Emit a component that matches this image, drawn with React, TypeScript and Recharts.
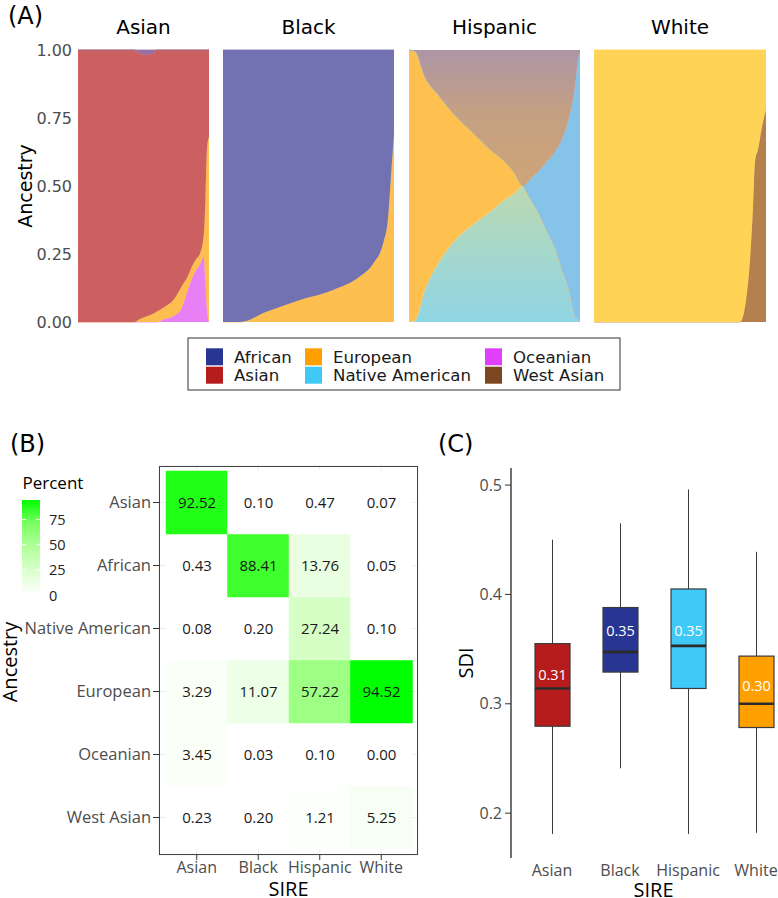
import React from "react";
import {
  AreaChart,
  Area,
  BarChart,
  Bar,
  Cell,
  LabelList,
  ComposedChart,
  XAxis,
  YAxis,
  CartesianGrid,
} from "recharts";

const FONT_A = "'DejaVu Sans', sans-serif";
const FONT_B = "'Open Sans', sans-serif";

// legend palette
const legendNames = ["African", "Asian", "European", "Native American", "Oceanian", "West Asian"];
const legendColors = ["#283593", "#b71c1c", "#ffa000", "#40c8f6", "#e040fb", "#7b4620"];

// ---- (A) ancestry proportions, individuals sorted (x = rank fraction) ----
const asianX = [0, 0.2, 0.43, 0.47, 0.52, 0.58, 0.6, 0.66, 0.73, 0.79, 0.84, 0.87, 0.9, 0.93, 0.96, 0.973, 0.985, 1];
const asianAfrican = [0, 0, 0, 0.012, 0.018, 0.01, 0, 0, 0, 0, 0, 0, 0, 0, 0, 0, 0, 0];
const asianAsian = [1, 1, 1, 0.978, 0.962, 0.958, 0.962, 0.945, 0.918, 0.87, 0.83, 0.795, 0.77, 0.75, 0.68, 0.55, 0.36, 0.32];
const asianEuropean = [0, 0, 0, 0.01, 0.02, 0.032, 0.038, 0.045, 0.06, 0.08, 0.05, 0.045, 0.04, 0.04, 0.08, 0.3, 0.6, 0.68];
const asianOceanian = [0, 0, 0, 0, 0, 0, 0, 0.01, 0.022, 0.05, 0.12, 0.16, 0.19, 0.21, 0.24, 0.15, 0.04, 0];

const blackX = [0, 0.1, 0.255, 0.45, 0.645, 0.8, 0.88, 0.937, 0.966, 0.986, 1];
const blackAfrican = [1, 1, 0.962, 0.919, 0.882, 0.833, 0.784, 0.71, 0.613, 0.43, 0.31];
const blackEuropean = [0, 0, 0.038, 0.081, 0.118, 0.167, 0.216, 0.29, 0.387, 0.57, 0.69];

const hispX = [0, 0.035, 0.094, 0.171, 0.269, 0.367, 0.464, 0.561, 0.62, 0.667, 0.71, 0.756, 0.8, 0.854, 0.9, 0.93, 0.97, 0.99, 1];
const hispNativeMix = [0, 0.005, 0.118, 0.216, 0.3, 0.355, 0.4, 0.45, 0.475, 0.5, 0.45, 0.4, 0.34, 0.27, 0.18, 0.13, 0.02, 0.005, 0];
const hispEuropean = [1, 0.99, 0.782, 0.619, 0.46, 0.345, 0.24, 0.139, 0.07, 0, 0, 0, 0, 0, 0, 0, 0, 0, 0];
const hispNative = [0, 0, 0, 0, 0, 0, 0, 0, 0, 0, 0.075, 0.153, 0.245, 0.356, 0.5, 0.606, 0.84, 0.965, 0.99];
const hispAfricanMix = [0, 0.005, 0.1, 0.165, 0.24, 0.3, 0.36, 0.411, 0.455, 0.5, 0.475, 0.447, 0.415, 0.374, 0.32, 0.264, 0.14, 0.03, 0.01];

const whiteX = [0, 0.849, 0.898, 0.923, 0.936, 0.955, 0.975, 0.988, 1];
const whiteEuropean = [1, 1, 0.84, 0.595, 0.41, 0.362, 0.288, 0.25, 0.22];
const whiteWestAsian = [0, 0, 0.16, 0.405, 0.59, 0.638, 0.712, 0.75, 0.78];

const ancestryTicks = [0, 0.25, 0.5, 0.75, 1];

// ---- (B) percent of ancestry by SIRE ----
const sires = ["Asian", "Black", "Hispanic", "White"];
const pctAsian = [92.52, 0.1, 0.47, 0.07];
const pctAfrican = [0.43, 88.41, 13.76, 0.05];
const pctNative = [0.08, 0.2, 27.24, 0.1];
const pctEuropean = [3.29, 11.07, 57.22, 94.52];
const pctOceanian = [3.45, 0.03, 0.1, 0.0];
const pctWestAsian = [0.23, 0.2, 1.21, 5.25];
const colorbarTicks = [0, 25, 50, 75];

// ---- (C) SDI boxplots ----
const sdiMin = [0.181, 0.241, 0.181, 0.182];
const sdiQ1 = [0.2795, 0.329, 0.314, 0.2783];
const sdiMedian = [0.314, 0.3475, 0.353, 0.3];
const sdiQ3 = [0.355, 0.388, 0.405, 0.3436];
const sdiMax = [0.45, 0.465, 0.496, 0.439];
const sdiMean = [0.31, 0.35, 0.35, 0.3];
const sdiTicks = [0.2, 0.3, 0.4, 0.5];
const sireColors = ["#b71c1c", "#283593", "#40c8f6", "#ffa000"];

// white -> green gradient interpolated in Lab (like ggplot)
const toLin = (c: number) => {
  c /= 255;
  return c <= 0.04045 ? c / 12.92 : Math.pow((c + 0.055) / 1.055, 2.4);
};
const fromLin = (c: number) => {
  const v = c <= 0.0031308 ? 12.92 * c : 1.055 * Math.pow(c, 1 / 2.4) - 0.055;
  return Math.round(Math.min(1, Math.max(0, v)) * 255);
};
const f = (t: number) => (t > 0.008856 ? Math.cbrt(t) : 7.787 * t + 16 / 116);
const finv = (t: number) => (t * t * t > 0.008856 ? t * t * t : (t - 16 / 116) / 7.787);
function toLab(rgb: number[]) {
  const [r, g, b] = rgb.map(toLin);
  const X = (0.4124 * r + 0.3576 * g + 0.1805 * b) / 0.95047;
  const Y = 0.2126 * r + 0.7152 * g + 0.0722 * b;
  const Z = (0.0193 * r + 0.1192 * g + 0.9505 * b) / 1.08883;
  return [116 * f(Y) - 16, 500 * (f(X) - f(Y)), 200 * (f(Y) - f(Z))];
}
function fromLab([L, a, bb]: number[]) {
  const fy = (L + 16) / 116;
  const X = finv(fy + a / 500) * 0.95047;
  const Y = finv(fy);
  const Z = finv(fy - bb / 200) * 1.08883;
  const r = 3.2406 * X - 1.5372 * Y - 0.4986 * Z;
  const g = -0.9689 * X + 1.8758 * Y + 0.0415 * Z;
  const b = 0.0557 * X - 0.204 * Y + 1.057 * Z;
  return `rgb(${fromLin(r)},${fromLin(g)},${fromLin(b)})`;
}
const labLow = toLab([255, 255, 255]);
const labHigh = toLab([0, 255, 0]);
const pctMax = Math.max(...pctEuropean, ...pctAsian);
const greenScale = (v: number) => {
  const t = v / pctMax;
  return fromLab(labLow.map((l, i) => l + (labHigh[i] - l) * t));
};

function StackPanel({
  x,
  layers,
  left,
  width,
  axis,
}: {
  x: number[];
  layers: { key: string; color: string; values: number[] }[];
  left: number;
  width: number;
  axis?: boolean;
}) {
  const rows = x.map((v, i) => {
    const r: Record<string, number> = { x: v };
    layers.forEach((l) => (r[l.key] = l.values[i]));
    return r;
  });
  return (
    <div style={{ position: "absolute", left, top: 40 }}>
      <AreaChart width={width} height={292} data={rows} margin={{ top: 10, right: 0, bottom: 10, left: 0 }}>
        <defs>
          <linearGradient id="hispTop" x1="0" y1="0" x2="0" y2="1">
            <stop offset="0%" stopColor="#ad95a6" />
            <stop offset="45%" stopColor="#c4a083" />
            <stop offset="100%" stopColor="#cfa577" />
          </linearGradient>
          <linearGradient id="hispLow" x1="0" y1="0" x2="0" y2="1">
            <stop offset="0%" stopColor="#bcd9b0" />
            <stop offset="50%" stopColor="#a5d7cc" />
            <stop offset="100%" stopColor="#8fd5e3" />
          </linearGradient>
        </defs>
        <XAxis dataKey="x" type="number" domain={[0, 1]} hide />
        <YAxis
          domain={[0, 1]}
          hide={!axis}
          width={78}
          ticks={ancestryTicks}
          tickFormatter={(v: number) => v.toFixed(2)}
          axisLine={false}
          tickLine={false}
          tickSize={4}
          tickMargin={2}
          tick={{ fontSize: 16, fill: "#4d4d4d", fontFamily: FONT_A }}
        />
        {layers.map((l) => (
          <Area
            key={l.key}
            dataKey={l.key}
            stackId="s"
            type="monotone"
            fill={l.color}
            fillOpacity={1}
            stroke={l.color.startsWith("url") ? "none" : l.color}
            strokeWidth={0.8}
            dot={false}
            activeDot={false}
            isAnimationActive={false}
          />
        ))}
      </AreaChart>
    </div>
  );
}

// bottom -> top for the heatmap stack
const heatAncestries = [
  { key: "WestAsian", name: "West Asian", pct: pctWestAsian },
  { key: "Oceanian", name: "Oceanian", pct: pctOceanian },
  { key: "European", name: "European", pct: pctEuropean },
  { key: "Native", name: "Native American", pct: pctNative },
  { key: "African", name: "African", pct: pctAfrican },
  { key: "Asian", name: "Asian", pct: pctAsian },
];
const heatRows = sires.map((s, i) => {
  const r: Record<string, string | number> = { sire: s };
  heatAncestries.forEach((a) => {
    r[a.key] = 1;
    r["p_" + a.key] = a.pct[i];
  });
  return r;
});

const boxRows = sires.map((s, i) => ({
  sire: s,
  whisker: [sdiMin[i], sdiMax[i]],
  box: [sdiQ1[i], sdiQ3[i]],
  q1: sdiQ1[i],
  q3: sdiQ3[i],
  median: sdiMedian[i],
  mean: sdiMean[i],
}));

const WhiskerShape = (p: any) => {
  const cx = p.x + p.width / 2;
  const top = Math.min(p.y, p.y + p.height);
  return <line x1={cx} x2={cx} y1={top} y2={top + Math.abs(p.height)} stroke="#3a3a3a" strokeWidth={1} />;
};

const BoxShape = (p: any) => {
  const { x, y, width, height, payload, fill } = p;
  const top = Math.min(y, y + height);
  const h = Math.abs(height);
  const yAt = (v: number) => top + (h * (payload.q3 - v)) / (payload.q3 - payload.q1);
  const my = yAt(payload.median);
  return (
    <g>
      <rect x={x} y={top} width={width} height={h} fill={fill} stroke="#3a3a3a" strokeWidth={1.2} />
      <line x1={x} x2={x + width} y1={my} y2={my} stroke="#2b2b2b" strokeWidth={2.6} />
      <text
        x={x + width / 2}
        y={yAt(payload.mean + 0.017)}
        textAnchor="middle"
        dominantBaseline="central"
        fill="#fff"
        fontSize={14.5}
        fontFamily={FONT_B}
      >
        {payload.mean.toFixed(2)}
      </text>
    </g>
  );
};

export default function App() {
  const legendCols = [206, 305, 485];
  const legendRows = [348.3, 366.7];
  const cbTop = 500;
  const cbH = 95;
  return (
    <div
      style={{
        position: "absolute",
        left: 0,
        top: 0,
        width: 778,
        height: 898,
        background: "#fff",
        overflow: "hidden",
      }}
    >
      {/* (A) */}
      <StackPanel
        axis
        left={0}
        width={209}
        x={asianX}
        layers={[
          { key: "Oceanian", color: "#e87ff4", values: asianOceanian },
          { key: "European", color: "#fdbe50", values: asianEuropean },
          { key: "Asian", color: "#cc6060", values: asianAsian },
          { key: "African", color: "#9670a0", values: asianAfrican },
        ]}
      />
      <StackPanel
        left={223}
        width={171}
        x={blackX}
        layers={[
          { key: "European", color: "#fdc050", values: blackEuropean },
          { key: "African", color: "#7272b2", values: blackAfrican },
        ]}
      />
      <StackPanel
        left={409}
        width={171}
        x={hispX}
        layers={[
          { key: "NativeMix", color: "url(#hispLow)", values: hispNativeMix },
          { key: "European", color: "#fec04f", values: hispEuropean },
          { key: "Native", color: "#86c3e8", values: hispNative },
          { key: "AfricanMix", color: "url(#hispTop)", values: hispAfricanMix },
        ]}
      />
      <StackPanel
        left={594}
        width={172}
        x={whiteX}
        layers={[
          { key: "WestAsian", color: "#b4804e", values: whiteWestAsian },
          { key: "European", color: "#ffd456", values: whiteEuropean },
        ]}
      />

      {/* (B) heatmap */}
      <div style={{ position: "absolute", left: 0, top: 400 }}>
        <BarChart
          width={430}
          height={498}
          data={heatRows}
          margin={{ top: 66, right: 12, bottom: 0, left: 0 }}
          barCategoryGap={0}
        >
          <CartesianGrid stroke="#ebebeb" />
          <XAxis
            dataKey="sire"
            padding={{ left: 7, right: 6 }}
            height={43}
            axisLine={false}
            tickLine={{ stroke: "#333" }}
            tickSize={5}
            tickMargin={2}
            tick={{ fontSize: 16, fill: "#4d4d4d", fontFamily: FONT_B }}
          />
          <YAxis
            type="number"
            domain={[0, 6]}
            padding={{ top: 5, bottom: 6 }}
            ticks={[0.5, 1.5, 2.5, 3.5, 4.5, 5.5]}
            tickFormatter={(v: number) => heatAncestries[Math.floor(v)].name}
            width={159}
            axisLine={false}
            tickLine={{ stroke: "#333" }}
            tickSize={6}
            tickMargin={2}
            tick={{ fontSize: 16.5, fill: "#4d4d4d", fontFamily: FONT_B }}
          />
          {heatAncestries.map((a) => (
            <Bar key={a.key} dataKey={a.key} stackId="t" isAnimationActive={false}>
              {a.pct.map((v, i) => (
                <Cell key={i} fill={greenScale(v)} stroke={greenScale(v)} strokeWidth={0.5} />
              ))}
              <LabelList
                dataKey={"p_" + a.key}
                position="center"
                formatter={(v: any) => Number(v).toFixed(2)}
                fill="#1a1a1a"
                fontSize={15}
                fontFamily={FONT_B}
              />
            </Bar>
          ))}
        </BarChart>
      </div>
      <div
        style={{
          position: "absolute",
          left: 159,
          top: 466,
          width: 259,
          height: 389,
          border: "1px solid #444",
          boxSizing: "border-box",
          pointerEvents: "none",
        }}
      />

      {/* (C) boxplots */}
      <div style={{ position: "absolute", left: 420, top: 400, width: 358, height: 498, overflow: "hidden" }}>
        <ComposedChart
          width={377}
          height={498}
          data={boxRows}
          margin={{ top: 68, right: 0, bottom: 0, left: 0 }}
          barSize={35}
          barGap={-35}
        >
          <XAxis
            dataKey="sire"
            padding={{ left: 7, right: 7 }}
            height={40}
            axisLine={false}
            tickLine={false}
            tickSize={0}
            tickMargin={7}
            tick={{ fontSize: 16, fill: "#4d4d4d", fontFamily: FONT_B }}
          />
          <YAxis
            type="number"
            domain={[0.159, 0.5156]}
            allowDataOverflow
            ticks={sdiTicks}
            tickFormatter={(v: number) => String(v)}
            width={91}
            axisLine={{ stroke: "#111", strokeWidth: 1.2 }}
            tickLine={{ stroke: "#333" }}
            tickSize={6}
            tickMargin={3}
            tick={{ fontSize: 16, fill: "#4d4d4d", fontFamily: FONT_B }}
          />
          <Bar dataKey={(d: any) => d.whisker} shape={WhiskerShape} isAnimationActive={false} />
          <Bar dataKey={(d: any) => d.box} shape={BoxShape} isAnimationActive={false}>
            {sireColors.map((c, i) => (
              <Cell key={i} fill={c} />
            ))}
          </Bar>
        </ComposedChart>
      </div>

      {/* titles, axis titles and legends */}
      <svg
        width={778}
        height={898}
        style={{ position: "absolute", left: 0, top: 0, pointerEvents: "none" }}
      >
        <defs>
          <linearGradient id="cbar" x1="0" y1="1" x2="0" y2="0">
            {[0, 0.25, 0.5, 0.75, 1].map((t) => (
              <stop key={t} offset={`${t * 100}%`} stopColor={greenScale(t * pctMax)} />
            ))}
          </linearGradient>
        </defs>
        <g fontFamily={FONT_A} fill="#000">
          <text x={8} y={23.5} fontSize={24}>(A)</text>
          <text x={143.5} y={34.3} fontSize={20} textAnchor="middle">Asian</text>
          <text x={308.5} y={34.3} fontSize={20} textAnchor="middle">Black</text>
          <text x={494.5} y={34.3} fontSize={20} textAnchor="middle">Hispanic</text>
          <text x={680} y={34.3} fontSize={20} textAnchor="middle">White</text>
          <text transform="translate(32,186) rotate(-90)" fontSize={19} textAnchor="middle">
            Ancestry
          </text>
          <rect x={188} y={338} width={432} height={52} fill="none" stroke="#333" strokeWidth={1} />
          {legendNames.map((n, i) => {
            const col = Math.floor(i / 2);
            const row = i % 2;
            return (
              <g key={n}>
                <rect x={legendCols[col]} y={legendRows[row]} width={17} height={17} fill={legendColors[i]} />
                <text x={legendCols[col] + 28} y={legendRows[row] + 14.5} fontSize={16.6} fill="#1a1a1a">
                  {n}
                </text>
              </g>
            );
          })}
          <text x={10} y={452} fontSize={24}>(B)</text>
          <text x={438} y={452} fontSize={24}>(C)</text>
        </g>
        <g fontFamily={FONT_B}>
          <text x={22.5} y={489.3} fontSize={17} fill="#000">Percent</text>
          <rect x={22} y={cbTop} width={18} height={cbH} fill="url(#cbar)" />
          {colorbarTicks.map((t) => {
            const yy = cbTop + cbH - (t / pctMax) * cbH;
            return (
              <g key={t}>
                <line x1={22} x2={26} y1={yy} y2={yy} stroke="#fff" />
                <line x1={36} x2={40} y1={yy} y2={yy} stroke="#fff" />
                <text x={49} y={yy} dominantBaseline="central" fontSize={14.5} fill="#222">
                  {t}
                </text>
              </g>
            );
          })}
          <text transform="translate(17,662) rotate(-90)" fontSize={20} textAnchor="middle" fill="#000">
            Ancestry
          </text>
          <text x={288.5} y={896} fontSize={20} textAnchor="middle" fill="#000">SIRE</text>
          <text transform="translate(473,663) rotate(-90)" fontSize={20} textAnchor="middle" fill="#000">
            SDI
          </text>
          <text x={653.5} y={896.5} fontSize={20} textAnchor="middle" fill="#000">SIRE</text>
        </g>
      </svg>
    </div>
  );
}
